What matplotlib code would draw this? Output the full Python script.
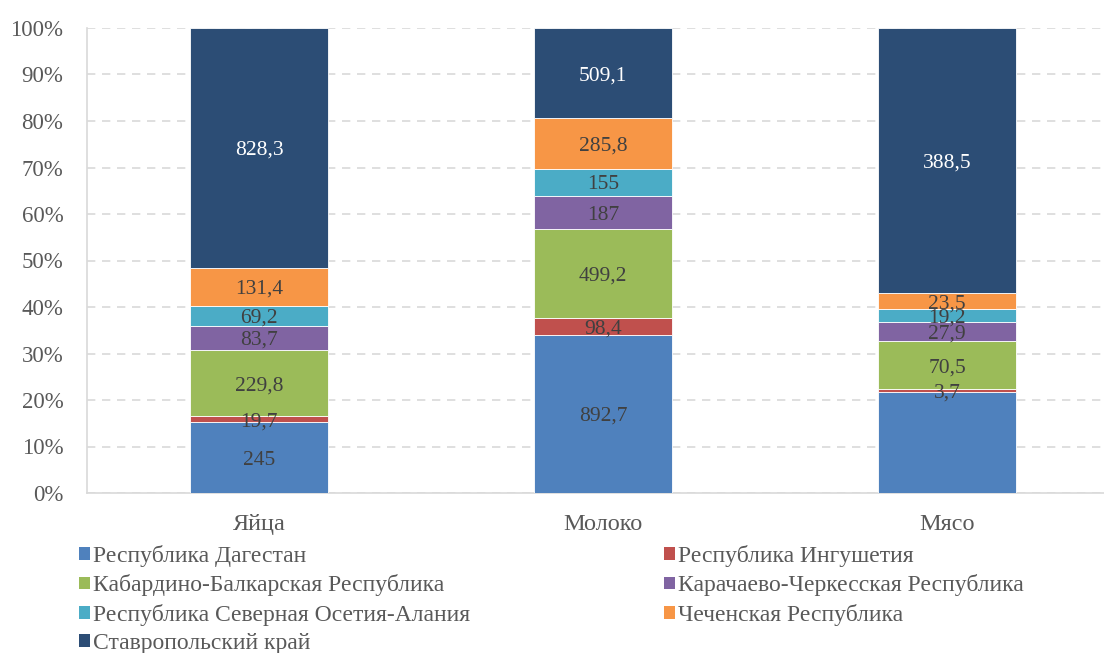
import numpy as np
import matplotlib.pyplot as plt
from matplotlib.patches import Patch

plt.rcParams['font.family'] = ['Liberation Serif', 'DejaVu Serif']

categories = ["Яйца", "Молоко", "Мясо"]
regions = [
    "Республика Дагестан",
    "Республика Ингушетия",
    "Кабардино-Балкарская Республика",
    "Карачаево-Черкесская Республика",
    "Республика Северная Осетия-Алания",
    "Чеченская Республика",
    "Ставропольский край",
]
colors = ["#4F81BD", "#C0504D", "#9BBB59", "#8064A2", "#4BACC6", "#F79646", "#2C4D75"]

# values per region: [Яйца, Молоко, Мясо]
dagestan = [245, 892.7, 148]  # meat value not labelled in source, estimated
ingushetia = [19.7, 98.4, 3.7]
kbr = [229.8, 499.2, 70.5]
kchr = [83.7, 187, 27.9]
osetia = [69.2, 155, 19.2]
chechnya = [131.4, 285.8, 23.5]
stavropol = [828.3, 509.1, 388.5]

# which labels are shown (Дагестан / Мясо has no label)
show_labels = [
    [True, True, False],
    [True, True, True],
    [True, True, True],
    [True, True, True],
    [True, True, True],
    [True, True, True],
    [True, True, True],
]

data = np.array([dagestan, ingushetia, kbr, kchr, osetia, chechnya, stavropol], dtype=float)
shares = data / data.sum(axis=0) * 100

fig = plt.figure(figsize=(11.04, 6.53), dpi=100)
ax = fig.add_axes([87 / 1104, 1 - 493 / 653, 1 - 87 / 1104, 465 / 653])

x = np.arange(len(categories))
bottom = np.zeros(len(categories))
for i in range(len(regions)):
    ax.bar(x, shares[i], 0.4, bottom=bottom, color=colors[i],
           edgecolor="white", linewidth=0.6, label=regions[i], zorder=3)
    for j in range(len(categories)):
        if show_labels[i][j]:
            txt = f"{data[i, j]:g}".replace(".", ",")
            ax.text(x[j], bottom[j] + shares[i][j] / 2, txt,
                    ha="center", va="center_baseline", fontsize=15.5,
                    color="white" if i == 6 else "#404040", zorder=4)
    bottom += shares[i]

ax.set_xlim(-0.5, 2.456)
ax.set_ylim(0, 100)
ax.set_yticks(np.arange(0, 101, 10))
ax.set_yticklabels([f"{v}%" for v in range(0, 101, 10)])
ax.set_xticks(x)
ax.set_xticklabels(categories)
ax.tick_params(axis="y", length=0, labelsize=16.5, colors="#595959", pad=17)
ax.tick_params(axis="x", length=0, labelsize=17.5, colors="#595959", pad=15)
ax.yaxis.grid(True, color="#D9D9D9", linestyle=(0, (5, 4)), linewidth=1.2, zorder=0)
for s in ["top", "right"]:
    ax.spines[s].set_visible(False)
ax.spines["left"].set_color("#D9D9D9")
ax.spines["bottom"].set_color("#D9D9D9")
ax.spines["left"].set_linewidth(1.2)
ax.spines["bottom"].set_linewidth(1.2)

handles = [Patch(facecolor=c) for c in colors]
left_idx = [0, 2, 4, 6]
right_idx = [1, 3, 5]
common = dict(frameon=False, fontsize=17, handlelength=0.45, handleheight=0.45,
              handletextpad=0.15, labelspacing=0.31, borderaxespad=0, borderpad=0,
              labelcolor="#595959", loc="upper left")
leg1 = fig.legend([handles[i] for i in left_idx], [regions[i] for i in left_idx],
                  bbox_to_anchor=(79 / 1104, 1 - 545 / 653), **common)
leg2 = fig.legend([handles[i] for i in right_idx], [regions[i] for i in right_idx],
                  bbox_to_anchor=(664 / 1104, 1 - 545 / 653), **common)

fig.savefig("out.png", dpi=100)
